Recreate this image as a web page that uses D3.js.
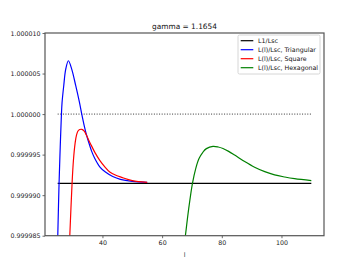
<!DOCTYPE html>
<html>
<head>
<meta charset="utf-8">
<script src="https://cdn.jsdelivr.net/npm/d3@7"></script>
<style>
  body { margin: 0; background: #fff; }
  svg { display: block; font-family: "DejaVu Sans", sans-serif; }
</style>
</head>
<body>
<script>
// values (l, L/Lsc)
const black = [[25, 0.99999145], [110, 0.99999145]];
const unity = [[25, 1.0], [110, 1.0]];

const triL = [24.95, 25.03, 25.46, 25.85, 26.26, 26.47, 27.03, 27.7, 28.6, 29.7, 31.05, 32.3, 33.07, 34.0, 34.64, 35.5, 36.4, 37.4, 39.1, 41, 43.45, 46, 50, 55];
const triV = [0.999984, 0.999985, 0.99999143, 0.9999959, 1.0, 1.00000144, 1.0000035, 1.00000554, 1.00000658, 1.00000554, 1.0000035, 1.00000144, 1.0, 0.9999984, 0.99999745, 0.9999964, 0.9999954, 0.99999455, 0.9999935, 0.99999285, 0.9999923, 0.99999195, 0.9999917, 0.99999158];

const sqL = [28.9, 29.05, 29.82, 30.28, 30.82, 31.29, 31.96, 33.07, 33.9, 34.64, 35.98, 37.5, 39.1, 40.8, 42.45, 44.5, 46.4, 50, 55];
const sqV = [0.9999837, 0.99998494, 0.99999143, 0.9999943, 0.99999635, 0.99999738, 0.99999799, 0.99999812, 0.9999979, 0.99999738, 0.99999635, 0.99999525, 0.9999943, 0.9999935, 0.99999286, 0.99999245, 0.9999922, 0.9999918, 0.99999158];

const hexL = [67.4, 67.8, 68.9, 70.15, 71.26, 72.37, 73.7, 74.84, 77.05, 78.8, 80.4, 82.3, 84.3, 87.67, 91, 94.4, 97.7, 101.1, 104.4, 110];
const hexV = [0.9999838, 0.999985, 0.9999883, 0.99999143, 0.99999328, 0.99999451, 0.99999532, 0.99999574, 0.99999602, 0.99999594, 0.99999575, 0.9999954, 0.99999495, 0.99999415, 0.99999345, 0.9999929, 0.9999925, 0.99999224, 0.99999204, 0.9999918];

const xTicks = [40, 60, 80, 100];
const yTicks = [0.999985, 0.99999, 0.999995, 1.0, 1.000005, 1.00001];

const legendNames = ["L1/Lsc", "L(l)/Lsc, Triangular", "L(l)/Lsc, Square", "L(l)/Lsc, Hexagonal"];
const legendColors = ["#000000", "#0000ff", "#ff0000", "#008000"];

const width = 360, height = 270;
const margin = {top: 33, right: 36, bottom: 34.3, left: 45};

const x = d3.scaleLinear().domain([20.75, 114.25]).range([margin.left, width - margin.right]);
const y = d3.scaleLinear().domain([0.999985, 1.00001]).range([height - margin.bottom, margin.top]);

const svg = d3.select("body").append("svg")
  .attr("width", width)
  .attr("height", height);

svg.append("clipPath").attr("id", "clip")
  .append("rect")
  .attr("x", margin.left).attr("y", margin.top)
  .attr("width", width - margin.left - margin.right)
  .attr("height", height - margin.top - margin.bottom);

const line = d3.line().x(d => x(d[0])).y(d => y(d[1]));
const smooth = d3.line().x(d => x(d[0])).y(d => y(d[1])).curve(d3.curveCatmullRom.alpha(0.5));

const plot = svg.append("g").attr("clip-path", "url(#clip)");

plot.append("path").datum(unity)
  .attr("d", line).attr("fill", "none")
  .attr("stroke", "#333").attr("stroke-width", 1)
  .attr("stroke-dasharray", "1,1.6");

plot.append("path").datum(black)
  .attr("d", line).attr("fill", "none")
  .attr("stroke", "#000").attr("stroke-width", 1.2);

const series = [
  [triL, triV, legendColors[1]],
  [sqL, sqV, legendColors[2]],
  [hexL, hexV, legendColors[3]]
];
series.forEach(([ls, vs, c]) => {
  plot.append("path").datum(ls.map((l, i) => [l, vs[i]]))
    .attr("d", smooth).attr("fill", "none")
    .attr("stroke", c).attr("stroke-width", 1.2);
});

// axes
const xAxis = svg.append("g")
  .attr("transform", `translate(0,${height - margin.bottom})`)
  .call(d3.axisBottom(x).tickValues(xTicks).tickSize(2.5).tickPadding(2).tickFormat(d3.format("d")));
const yAxis = svg.append("g")
  .attr("transform", `translate(${margin.left},0)`)
  .call(d3.axisLeft(y).tickValues(yTicks).tickSize(2.5).tickPadding(2).tickFormat(d3.format(".6f")));
[xAxis, yAxis].forEach(g => {
  g.select(".domain").remove();
  g.selectAll("text").attr("font-size", 6.3).attr("fill", "#222").attr("font-family", "DejaVu Sans");
  g.selectAll("line").attr("stroke", "#444").attr("stroke-width", 0.8);
});

svg.append("rect")
  .attr("x", margin.left).attr("y", margin.top)
  .attr("width", width - margin.left - margin.right)
  .attr("height", height - margin.top - margin.bottom)
  .attr("fill", "none").attr("stroke", "#555").attr("stroke-width", 1.2);

svg.append("text")
  .attr("x", (margin.left + width - margin.right) / 2).attr("y", 28.5)
  .attr("text-anchor", "middle").attr("font-size", 7.4).attr("fill", "#111")
  .text("gamma = 1.1654");

svg.append("text")
  .attr("x", (margin.left + width - margin.right) / 2).attr("y", 257)
  .attr("text-anchor", "middle").attr("font-size", 6.3).attr("fill", "#222")
  .text("l");

// legend
const lg = svg.append("g");
lg.append("rect")
  .attr("x", 238).attr("y", 35).attr("width", 82).attr("height", 39)
  .attr("rx", 1.5).attr("fill", "#fff").attr("fill-opacity", 0.8)
  .attr("stroke", "#ccc").attr("stroke-width", 0.8);
legendNames.forEach((name, i) => {
  const yy = 40.7 + i * 9;
  lg.append("line")
    .attr("x1", 240.7).attr("x2", 253.3).attr("y1", yy).attr("y2", yy)
    .attr("stroke", legendColors[i]).attr("stroke-width", 1.2);
  lg.append("text")
    .attr("x", 258).attr("y", yy + 2.2)
    .attr("font-size", 6.3).attr("fill", "#111")
    .text(name);
});
</script>
</body>
</html>
